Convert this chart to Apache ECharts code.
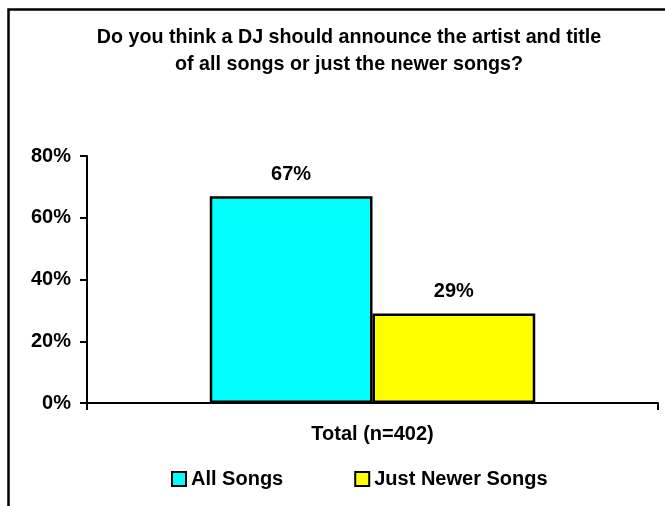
<!DOCTYPE html>
<html>
<head>
<meta charset="utf-8">
<script src="https://cdn.jsdelivr.net/npm/echarts@6/dist/echarts.min.js"></script>
<style>html,body{margin:0;padding:0;background:#fff}#c{width:665px;height:506px}</style>
</head>
<body>
<div id="c"></div>
<script>
var titleText = 'Do you think a DJ should announce the artist and title\nof all songs or just the newer songs?';
var categories = ['Total (n=402)'];
var seriesNames = ['All Songs', 'Just Newer Songs'];
var allSongs = [67];
var justNewer = [29];
var seriesColors = ['#00FFFF', '#FFFF00'];
var yTicks = [0, 20, 40, 60, 80];

var FONT = 'Liberation Sans, Arial, sans-serif';
var chart = echarts.init(document.getElementById('c'), null, {renderer: 'canvas'});
function barSeries(name, data, color) {
  return {
    name: name, type: 'bar', data: data,
    barGap: '0%', barCategoryGap: '43%',
    itemStyle: {color: color, borderColor: '#000', borderWidth: 2.5},
    label: {show: true, position: 'top', distance: 12, formatter: '{c}%',
      color: '#000', fontFamily: FONT, fontWeight: 'bold', fontSize: 20}
  };
}
chart.setOption({
  animation: false,
  backgroundColor: '#fff',
  graphic: [{type: 'rect', shape: {x: 8.5, y: 9.5, width: 720, height: 600},
    style: {fill: 'none', stroke: '#000', lineWidth: 2.5}, silent: true}],
  title: {text: titleText, left: 344, textAlign: 'center', top: 19,
    textStyle: {fontFamily: FONT, fontWeight: 'bold', fontSize: 19.7, lineHeight: 27, color: '#000'}},
  legend: {left: 166, top: 464, itemWidth: 14, itemHeight: 14, itemGap: 71,
    icon: 'rect',
    textStyle: {fontFamily: FONT, fontWeight: 'bold', fontSize: 20, color: '#000'},
    data: seriesNames},
  grid: {left: 87, right: 7, top: 156, bottom: 103, containLabel: false},
  xAxis: {type: 'category', data: categories,
    axisLine: {lineStyle: {color: '#000', width: 2}},
    axisTick: {show: true, length: 7, lineStyle: {color: '#000', width: 2}},
    axisLabel: {margin: 21, color: '#000', fontFamily: FONT, fontWeight: 'bold', fontSize: 20}},
  yAxis: {type: 'value', min: yTicks[0], max: yTicks[yTicks.length - 1], interval: 20,
    splitLine: {show: false},
    axisLine: {show: true, lineStyle: {color: '#000', width: 2}},
    axisTick: {show: true, length: 7, lineStyle: {color: '#000', width: 2}},
    axisLabel: {margin: 16, formatter: '{value}%', color: '#000', fontFamily: FONT, fontWeight: 'bold', fontSize: 20}},
  series: [barSeries(seriesNames[0], allSongs, seriesColors[0]), barSeries(seriesNames[1], justNewer, seriesColors[1])]
});
</script>
</body>
</html>
